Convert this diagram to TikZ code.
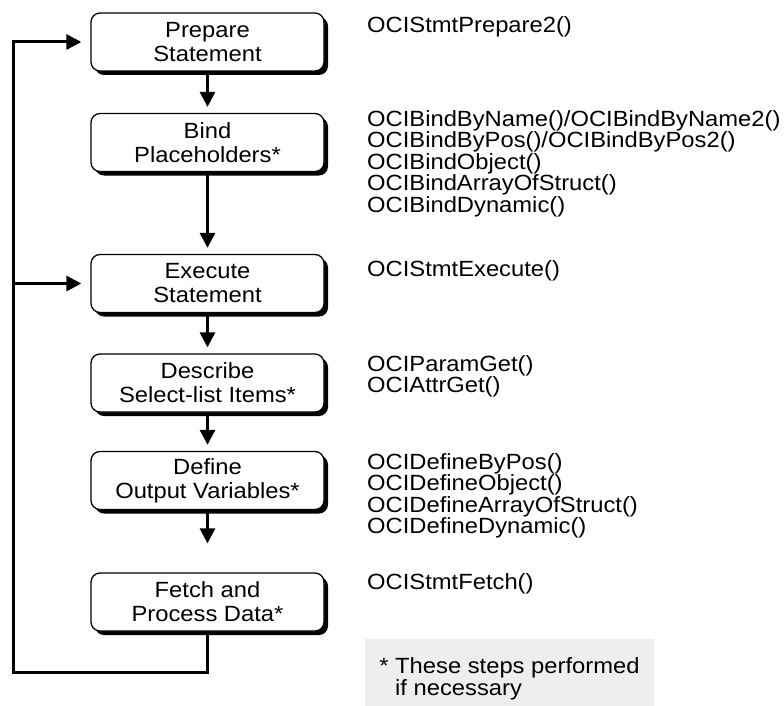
\documentclass[tikz,border=0pt]{standalone}
\usepackage{fontspec}
\setmainfont{Liberation Sans}[FakeStretch=1.08]
\usetikzlibrary{arrows.meta,shadows}
\definecolor{notegray}{HTML}{EDEEEE}

\begin{document}
\begin{tikzpicture}[
    x=1pt, y=-1pt,
    stepbox/.style={rectangle, draw, line width=1.3pt, rounded corners=9pt, fill=white, minimum width=233pt, minimum height=58pt, inner sep=0pt, align=center, font=\fontsize{22}{24}\selectfont,
        drop shadow={shadow xshift=4pt, shadow yshift=-4pt, fill=black, opacity=1}},
    api/.style={anchor=north west, inner sep=0pt, align=left, font=\fontsize{22}{20.3}\selectfont},
    flow/.style={line width=3pt, -{Triangle[length=15pt, width=15pt]}, shorten >=6pt}
]
    \useasboundingbox (0,0) rectangle (784,706);

    % Steps
    \node[stepbox] (prepare) at (207.5,42) {Prepare\\Statement};
    \node[stepbox] (bind) at (207.5,142.5) {Bind\\Placeholders*};
    \node[stepbox] (execute) at (207.5,283.5) {Execute\\Statement};
    \node[stepbox] (describe) at (207.5,383) {Describe\\Select-list Items*};
    \node[stepbox] (define) at (207.5,480.5) {Define\\Output Variables*};
    \node[stepbox] (fetch) at (207.5,602) {Fetch and\\Process Data*};

    % Calls
    \node[api] (prepareapi) at (367,16) {OCIStmtPrepare2()};
    \node[api] (bindapi) at (367,110) {OCIBindByName()/OCIBindByName2()\\
    OCIBindByPos()/OCIBindByPos2()\\
    OCIBindObject()\\
    OCIBindArrayOfStruct()\\
    OCIBindDynamic()};
    \node[api] (executeapi) at (367,260) {OCIStmtExecute()};
    \node[api] (describeapi) at (367,355) {OCIParamGet()\\
    OCIAttrGet()};
    \node[api] (defineapi) at (367,453) {OCIDefineByPos()\\
    OCIDefineObject()\\
    OCIDefineArrayOfStruct()\\
    OCIDefineDynamic()};
    \node[api] (fetchapi) at (367,573) {OCIStmtFetch()};

    % Note
    \node[anchor=north west, fill=notegray, inner sep=0pt, minimum width=289pt, minimum height=67pt] (notebox) at (365,639) {};
    \node[api, font=\fontsize{22}{22}\selectfont] (notetext) at (395,657) {\llap{*\ }These steps performed\\if necessary};

    % Arrows
    \draw[flow] (prepare) -- (bind);
    \draw[flow] (bind) -- (execute);
    \draw[flow] (execute) -- (describe);
    \draw[flow] (describe) -- (define);
    \draw[flow, shorten >=29pt] (define) -- (fetch);

    % Loop back
    \coordinate (loopbottom) at (13,672);
    \draw[flow, shorten >=9pt] (fetch.south) |- (loopbottom) |- (prepare.west);
    \draw[flow, shorten >=9pt] (loopbottom |- execute.west) -- (execute.west);
\end{tikzpicture}
\end{document}
